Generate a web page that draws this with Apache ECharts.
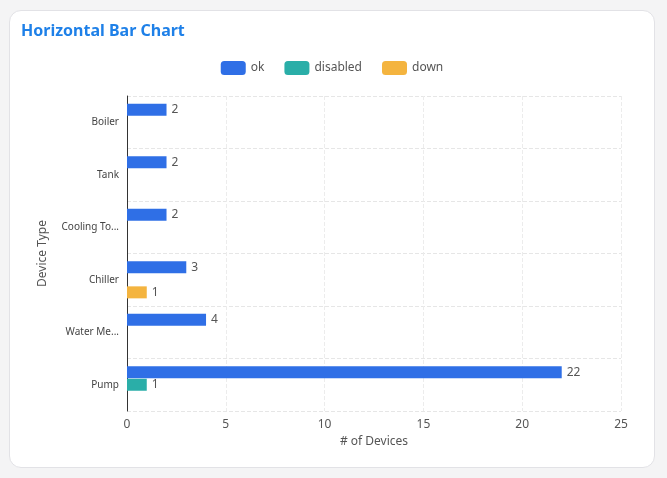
<!DOCTYPE html>
<html>
<head>
<meta charset="utf-8">
<script src="https://cdn.jsdelivr.net/npm/echarts@6/dist/echarts.min.js"></script>
<style>
    html, body {
        margin: 0;
        padding: 0;
        width: 667px;
        height: 478px;
        background: #f4f4f5;
        overflow: hidden;
    }
    #card {
        position: absolute;
        left: 9px;
        top: 10px;
        width: 644px;
        height: 456px;
        background: #fff;
        border: 1px solid #e2e2e6;
        border-radius: 12px;
    }
    #container {
        width: 644px;
        height: 456px;
    }
</style>
</head>
<body>
<div id="card"><div id="container"></div></div>
<script>
// 数据, 从上到下
var deviceTypes = ['Boiler', 'Tank', 'Cooling Tower', 'Chiller', 'Water Meter', 'Pump']
var okCounts = [2, 2, 2, 3, 4, 22]
var disabledCounts = [0, 0, 0, 0, 0, 1]
var downCounts = [0, 0, 0, 1, 0, 0]
var seriesNames = ['ok', 'disabled', 'down']
var seriesColors = ['#2f6fe6', '#2aaea8', '#f4b43f']
var xTicks = [0, 5, 10, 15, 20, 25]

var font = '"Noto Sans", "Open Sans", sans-serif'

var makeSeries = function (name, color, data) {
    return {
        name: name,
        type: 'bar',
        barWidth: 12,
        barGap: '5%',
        itemStyle: {
            color: color,
        },
        label: {
            show: true,
            position: 'right',
            color: '#555',
            fontSize: 12,
            fontFamily: font,
            // 0 不显示
            formatter: function (p) {
                return p.value == 0 ? '' : p.value
            },
        },
        data: data,
    }
}

// 类目标签, 长名字截断 (这个字体里 Water Meter 要单独收窄一点)
var categoryData = function () {
    var list = []
    for (let i = 0; i < deviceTypes.length; i++) {
        let name = deviceTypes[i]
        let o = { value: name }
        if (name == 'Water Meter') {
            o.textStyle = { width: 57.8, overflow: 'truncate' }
        }
        list.push(o)
    }
    return list
}

const chartInit = function () {
    var myChart = echarts.init(document.getElementById('container'))
    var allData = [okCounts, disabledCounts, downCounts]
    var series = []
    for (let i = 0; i < seriesNames.length; i++) {
        series.push(makeSeries(seriesNames[i], seriesColors[i], allData[i]))
    }

    var option = {
        animation: false,
        textStyle: {
            fontFamily: font,
        },
        title: {
            text: 'Horizontal Bar Chart',
            left: 6,
            top: 7,
            textStyle: {
                color: '#1e80e8',
                fontSize: 16,
                fontWeight: 'bold',
                fontFamily: font,
            },
        },
        legend: {
            data: seriesNames,
            top: 45,
            left: 'center',
            itemWidth: 25,
            itemHeight: 14,
            itemGap: 20,
            icon: 'roundRect',
            textStyle: {
                color: '#555',
                fontSize: 12,
                fontFamily: font,
            },
        },
        grid: {
            left: 117,
            right: 33,
            top: 85,
            bottom: 56,
        },
        xAxis: {
            type: 'value',
            min: xTicks[0],
            max: xTicks[xTicks.length - 1],
            interval: 5,
            name: '# of Devices',
            nameLocation: 'middle',
            nameGap: 22,
            nameTextStyle: {
                color: '#555',
                fontSize: 12,
            },
            axisLine: { show: false },
            axisTick: { show: false },
            axisLabel: {
                color: '#555',
                fontSize: 12,
            },
            splitLine: {
                lineStyle: {
                    color: '#ececec',
                    type: 'dashed',
                },
            },
        },
        yAxis: {
            type: 'category',
            inverse: true,
            data: categoryData(),
            name: 'Device Type',
            nameLocation: 'middle',
            nameGap: 78,
            nameTextStyle: {
                color: '#555',
                fontSize: 12,
            },
            axisLine: {
                show: true,
                lineStyle: { color: '#333' },
            },
            axisTick: { show: false },
            axisLabel: {
                color: '#444',
                fontSize: 10,
                width: 62,
                overflow: 'truncate',
                margin: 8,
            },
            splitLine: {
                show: true,
                lineStyle: {
                    color: '#e6e6e6',
                    type: 'dashed',
                },
            },
        },
        series: series,
    }

    myChart.setOption(option, true)
}

chartInit()
</script>
</body>
</html>
